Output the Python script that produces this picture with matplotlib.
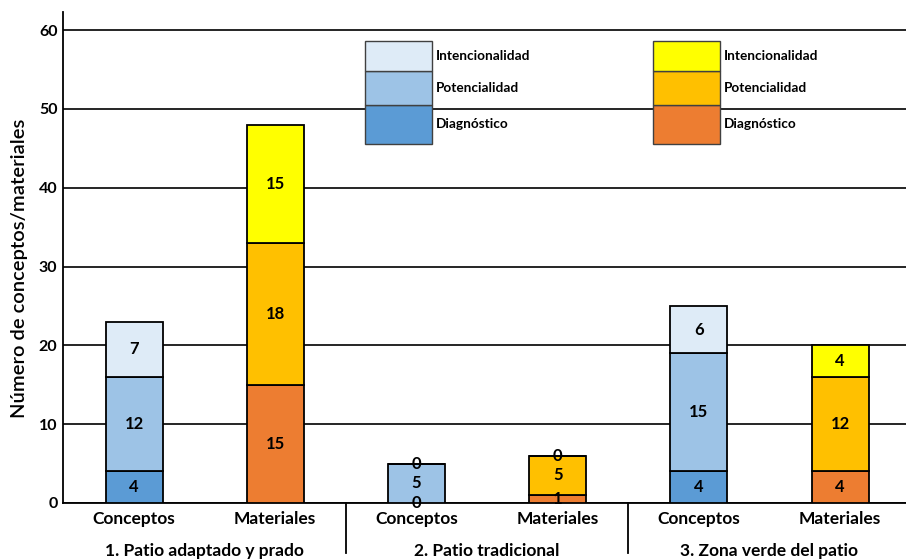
import matplotlib
matplotlib.use("Agg")
import matplotlib.pyplot as plt
from matplotlib.patches import Rectangle
import numpy as np

plt.rcParams['font.family'] = ['Lato', 'DejaVu Sans']

groups = ["1. Patio adaptado y prado", "2. Patio tradicional", "3. Zona verde del patio"]
kinds = ["Conceptos", "Materiales"]
levels = ["Diagnóstico", "Potencialidad", "Intencionalidad"]

# values per bar: (Diagnóstico, Potencialidad, Intencionalidad)
conceptos = [[4, 12, 7], [0, 5, 0], [4, 15, 6]]
materiales = [[15, 18, 15], [1, 5, 0], [4, 12, 4]]

blues = ["#5B9BD5", "#9DC3E6", "#DEEBF7"]
oranges = ["#ED7D31", "#FFC000", "#FFFF00"]

W, H = 906, 559
fig = plt.figure(figsize=(W / 100, H / 100), dpi=100)
ax = fig.add_axes([63 / W, 56 / H, (W - 63) / W, (503 - 12) / H])

ax.set_ylim(0, 62.3)
ax.set_xlim(-0.503, 5.467)
ax.set_yticks(range(0, 61, 10))
ax.yaxis.grid(True, color="black", linewidth=1.2)
ax.set_axisbelow(True)
for s in ["top", "right"]:
    ax.spines[s].set_visible(False)
for s in ["left", "bottom"]:
    ax.spines[s].set_linewidth(1.3)
ax.tick_params(axis="y", length=0, pad=4, labelsize=11.5)
for lbl in ax.get_yticklabels():
    lbl.set_fontweight("bold")

bar_w = 0.404
positions = []
for g in range(len(groups)):
    for k, (vals, cols) in enumerate(((conceptos[g], blues), (materiales[g], oranges))):
        x = 2 * g + k
        positions.append(x)
        bottom = 0
        for v, c in zip(vals, cols):
            ax.bar(x, v, bar_w, bottom=bottom, color=c, edgecolor="black",
                   linewidth=1.3, zorder=3)
            ax.text(x, bottom + v / 2, str(v), ha="center", va="center",
                    fontsize=12, fontweight="bold", zorder=4)
            bottom += v

ax.set_xticks(positions)
ax.set_xticklabels(kinds * len(groups), fontsize=12.5, fontweight="bold")
ax.tick_params(axis="x", length=0, pad=6)

trans = ax.get_xaxis_transform()
for g, name in enumerate(groups):
    ax.text(2 * g + 0.5, -0.098, name, transform=trans, ha="center", va="center",
            fontsize=12.5, fontweight="bold")
for xs in (1.5, 3.5):
    ax.plot([xs, xs], [0, -0.102], transform=trans, color="black",
            linewidth=1.3, clip_on=False)

ax.set_ylabel("Número de conceptos/materiales", fontsize=14.5, fontweight="semibold")
ax.yaxis.set_label_coords(-35 / (W - 63), (503 - 268) / (503 - 12))

# two stacked-swatch legends
def swatch_legend(x0, cols):
    edges = [144, 105, 71, 41]
    for i, c in enumerate(cols):
        y_bot = edges[i]
        y_top = edges[i + 1]
        rect = Rectangle((x0 / W, (H - y_bot) / H), 67 / W, (y_bot - y_top) / H,
                         transform=fig.transFigure, facecolor=c,
                         edgecolor="#404040", linewidth=1.0, zorder=5)
        fig.add_artist(rect)
        fig.text((x0 + 71) / W, (H - (y_bot + y_top) / 2) / H, levels[i],
                 ha="left", va="center", fontsize=9.8, fontweight="bold")

swatch_legend(365, blues)
swatch_legend(653, oranges)

fig.savefig("out.png", dpi=100)
